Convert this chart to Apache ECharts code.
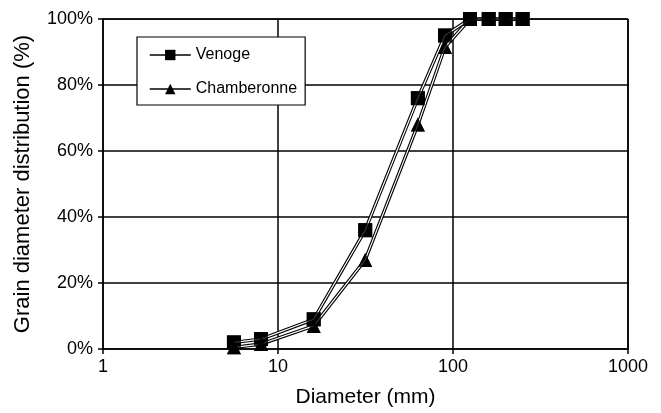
<!DOCTYPE html>
<html><head><meta charset="utf-8">
<script src="https://cdn.jsdelivr.net/npm/echarts@6/dist/echarts.min.js"></script>
<style>html,body{margin:0;padding:0;background:#fff}#c{width:661px;height:413px}</style>
</head><body><div id="c"></div>
<script>
const diameters = [5.6, 8, 16, 31.5, 63, 90, 125, 160, 200, 250];
const venoge = [2, 3, 9, 36, 76, 95, 100, 100, 100, 100];
const chamberonne = [0.5, 1.5, 7, 27, 68, 91.5, 100, 100, 100, 100];
const xTicks = [1, 10, 100, 1000];
const yTicks = [0, 20, 40, 60, 80, 100];

const pairs = arr => diameters.map((d, i) => [d, arr[i]]);
const font = 'Liberation Sans, Arial, sans-serif';

function seriesFor(name, vals, symbol, size) {
  return [
    { name: name, type: 'line', data: pairs(vals), symbol: symbol, symbolSize: size,
      lineStyle: { color: '#000', width: 3.4 }, itemStyle: { color: '#000' }, z: 2, animation: false },
    { name: name + '_core', type: 'line', data: pairs(vals), symbol: 'none',
      lineStyle: { color: '#fff', width: 1.2 }, z: 3, animation: false, silent: true },
    { name: name + '_pts', type: 'scatter', data: pairs(vals), symbol: symbol, symbolSize: size,
      itemStyle: { color: '#000' }, z: 4, animation: false }
  ];
}

const chart = echarts.init(document.getElementById('c'));
chart.setOption({
  animation: false,
  grid: { left: 103, right: 33, top: 19, bottom: 63 },
  legend: {
    data: ['Venoge', 'Chamberonne'],
    orient: 'vertical', left: 137, top: 37,
    backgroundColor: '#fff', borderColor: '#000', borderWidth: 1.2,
    padding: [10, 8, 8, 12], itemGap: 18, itemWidth: 41, itemHeight: 13,
    lineStyle: { width: 1.5, color: '#000' },
    textStyle: { fontFamily: font, fontSize: 16, color: '#000' }
  },
  xAxis: {
    type: 'log', logBase: 10, min: 1, max: 1000,
    name: 'Diameter (mm)', nameLocation: 'middle', nameGap: 38,
    nameTextStyle: { fontFamily: font, fontSize: 21, color: '#000' },
    axisLine: { lineStyle: { color: '#000', width: 1.5 } },
    axisTick: { show: true, length: 5, lineStyle: { color: '#000', width: 1.5 } },
    axisLabel: { fontFamily: font, fontSize: 18, color: '#000', margin: 9,
      formatter: v => xTicks.includes(Math.round(v)) ? String(Math.round(v)) : '' },
    splitLine: { show: true, lineStyle: { color: '#000', width: 1.5 } },
    minorTick: { show: false }
  },
  yAxis: {
    type: 'value', min: 0, max: 100, interval: 20,
    name: 'Grain diameter distribution (%)', nameLocation: 'middle', nameGap: 69,
    nameTextStyle: { fontFamily: font, fontSize: 22, color: '#000' },
    axisLine: { show: true, lineStyle: { color: '#000', width: 1.5 } },
    axisTick: { show: true, length: 5, lineStyle: { color: '#000', width: 1.5 } },
    axisLabel: { fontFamily: font, fontSize: 18, color: '#000', margin: 10,
      formatter: v => yTicks.includes(v) ? v + '%' : '' },
    splitLine: { show: true, lineStyle: { color: '#000', width: 1.5 } }
  },
  series: [
    ...seriesFor('Chamberonne', chamberonne, 'triangle', 14),
    ...seriesFor('Venoge', venoge, 'rect', 14),
    { type: 'line', data: [[1000, 0], [1000, 100]], symbol: 'none', lineStyle: { color: '#000', width: 1.5 }, silent: true },
    { type: 'line', data: [[1, 100], [1000, 100]], symbol: 'none', lineStyle: { color: '#000', width: 1.5 }, silent: true }
  ]
});
</script></body></html>
